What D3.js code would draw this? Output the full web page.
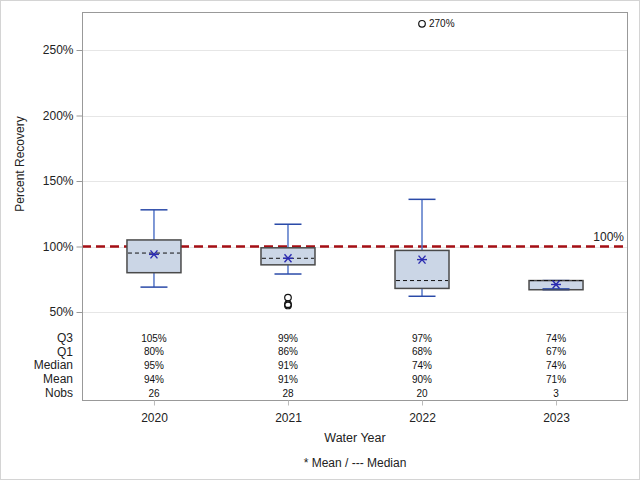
<!DOCTYPE html>
<html><head><meta charset="utf-8">
<script src="https://cdn.jsdelivr.net/npm/d3@7"></script>
<style>body{margin:0;background:#fff}svg{display:block;font-family:"Liberation Sans",Arial,sans-serif}</style>
</head><body><svg id="c" width="640" height="480"></svg>
<script>
const years = ["2020","2021","2022","2023"];
const q3 = [105, 99, 97, 74];
const q1 = [80, 86, 68, 67];
const median = [95, 91, 74, 74];
const mean = [94, 91, 90, 71];
const nobs = [26, 28, 20, 3];
const whiskerLow = [69, 79, 62, 67];
const whiskerHigh = [128, 117, 136, 74];
const outliers = [[], [61, 56, 55], [270], []];
const labeledOutliers = [null, null, 270, null];
const yTicks = [50, 100, 150, 200, 250];
const refValue = 100;
const tableRows = [["Q3", q3, true], ["Q1", q1, true], ["Median", median, true], ["Mean", mean, true], ["Nobs", nobs, false]];

const svg = d3.select("#c");
const L = 82, R = 628, T = 12, B = 400;
svg.append("rect").attr("x",0.5).attr("y",0.5).attr("width",639).attr("height",479).attr("fill","#fff").attr("stroke","#d4d4d4");

const x = d3.scalePoint().domain(years).range([L, R]).padding(0.537);
const y = d3.scaleLinear().domain([50, 250]).range([312, 50]);

// gridlines
svg.append("g").selectAll("line").data(yTicks).join("line")
  .attr("x1", L).attr("x2", R).attr("y1", d => Math.round(y(d))+0.5).attr("y2", d => Math.round(y(d))+0.5)
  .attr("stroke", "#e6e6e6").attr("stroke-width", 1);

// reference line
svg.append("line").attr("x1", L).attr("x2", R).attr("y1", y(refValue)).attr("y2", y(refValue))
  .attr("stroke", "#a50f15").attr("stroke-width", 2.5).attr("stroke-dasharray", "9,5");
svg.append("text").attr("x", 624).attr("y", y(refValue) - 6).attr("text-anchor","end")
  .attr("font-size", 12).attr("fill","#222").text(refValue + "%");

// boxes
const bw = 54, cw = 27;
const g = svg.append("g");
years.forEach((yr, i) => {
  const cx = x(yr);
  g.append("line").attr("x1", cx).attr("x2", cx).attr("y1", y(q3[i])).attr("y2", y(whiskerHigh[i])).attr("stroke","#5577c8").attr("stroke-width",1.5);
  g.append("line").attr("x1", cx).attr("x2", cx).attr("y1", y(q1[i])).attr("y2", y(whiskerLow[i])).attr("stroke","#5577c8").attr("stroke-width",1.5);
  [whiskerHigh[i], whiskerLow[i]].forEach(v => {
    g.append("line").attr("x1", cx - cw/2).attr("x2", cx + cw/2).attr("y1", y(v)).attr("y2", y(v)).attr("stroke","#2a4aa8").attr("stroke-width",1.5);
  });
  g.append("rect").attr("x", cx - bw/2).attr("y", y(q3[i])).attr("width", bw).attr("height", y(q1[i]) - y(q3[i]))
    .attr("fill","#cbd6e6").attr("stroke","#4a4a4a").attr("stroke-width",1.5);
  if (whiskerLow[i] === q1[i]) {
    g.append("line").attr("x1", cx - cw/2).attr("x2", cx + cw/2).attr("y1", y(q1[i])-1).attr("y2", y(q1[i])-1).attr("stroke","#2a4aa8").attr("stroke-width",1.2);
  }
  g.append("line").attr("x1", cx - bw/2 + 1).attr("x2", cx + bw/2 - 1).attr("y1", y(median[i])).attr("y2", y(median[i]))
    .attr("stroke","#111").attr("stroke-width",1).attr("stroke-dasharray","4,3");
  const my = y(mean[i]), s = 5;
  const star = g.append("g").attr("stroke","#2b2bb0").attr("stroke-width",1.4);
  star.append("line").attr("x1",cx-s).attr("x2",cx+s).attr("y1",my).attr("y2",my);
  star.append("line").attr("x1",cx-s*0.7).attr("x2",cx+s*0.7).attr("y1",my-s*0.8).attr("y2",my+s*0.8);
  star.append("line").attr("x1",cx-s*0.7).attr("x2",cx+s*0.7).attr("y1",my+s*0.8).attr("y2",my-s*0.8);
  outliers[i].forEach(v => {
    g.append("circle").attr("cx", cx).attr("cy", y(v)).attr("r", 3.3).attr("fill","none").attr("stroke","#111").attr("stroke-width",1.2);
  });
  if (labeledOutliers[i] !== null) {
    g.append("text").attr("x", cx + 7).attr("y", y(labeledOutliers[i]) + 3.5).attr("font-size", 10).attr("fill","#111").text(labeledOutliers[i] + "%");
  }
});

// table
const rowY = [338, 351.5, 365, 379, 393];
tableRows.forEach((row, r) => {
  svg.append("text").attr("x", 73).attr("y", rowY[r] + 4).attr("text-anchor","end").attr("font-size", 12).attr("fill","#222").text(row[0]);
  years.forEach((yr, i) => {
    svg.append("text").attr("x", x(yr)).attr("y", rowY[r] + 3.5).attr("text-anchor","middle").attr("font-size", 10).attr("fill","#111")
      .text(row[1][i] + (row[2] ? "%" : ""));
  });
});

// frame
svg.append("rect").attr("x", L + 0.5).attr("y", T + 0.5).attr("width", R - L - 1).attr("height", B - T).attr("fill","none").attr("stroke","#999");

// y axis
const ya = svg.append("g").attr("transform", `translate(${L + 0.5},0)`)
  .call(d3.axisLeft(y).tickValues(yTicks).tickFormat(d => d + "%").tickSize(6).tickPadding(3));
ya.select(".domain").remove();
ya.selectAll("line").attr("stroke","#999");
ya.selectAll("text").attr("font-size", 12).attr("fill","#222").attr("font-family",'"Liberation Sans",Arial,sans-serif');

// x axis
const xa = svg.append("g").attr("transform", `translate(0,${B + 0.5})`)
  .call(d3.axisBottom(x).tickSize(5).tickPadding(8));
xa.select(".domain").remove();
xa.selectAll("line").attr("stroke","#bbb");
xa.selectAll("text").attr("font-size", 12).attr("fill","#222").attr("font-family",'"Liberation Sans",Arial,sans-serif');

svg.append("text").attr("transform","translate(24,164) rotate(-90)").attr("text-anchor","middle").attr("font-size",12).attr("fill","#222").text("Percent Recovery");
svg.append("text").attr("x", 355).attr("y", 442).attr("text-anchor","middle").attr("font-size",12.5).attr("fill","#222").text("Water Year");
svg.append("text").attr("x", 355).attr("y", 467).attr("text-anchor","middle").attr("font-size",12).attr("fill","#222").text("* Mean / --- Median");
</script></body></html>
